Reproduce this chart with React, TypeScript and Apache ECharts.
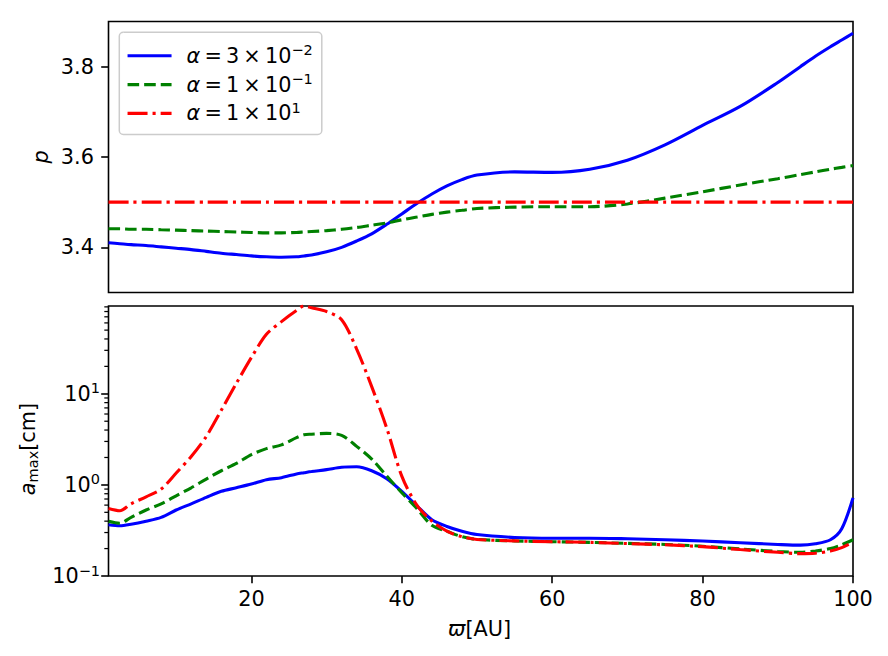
import { useEffect, useRef } from 'react';
import * as echarts from 'echarts';

// Radial distance ϖ [AU] at which every profile is sampled
const radius = [
  1, 2.5, 4, 6, 8, 10, 12, 14, 16, 18,
  20, 22, 24, 26, 27, 28, 30, 32, 34, 36,
  38, 40, 42, 44, 46, 48, 50, 55, 60, 65,
  70, 75, 80, 85, 90, 93, 95, 97, 98.5, 100,
];

// Power-law index p, one list per viscosity α
const pAlpha3em2 = [
  3.410, 3.408, 3.406, 3.404, 3.401, 3.398, 3.395, 3.391, 3.387, 3.384,
  3.381, 3.379, 3.378, 3.379, 3.381, 3.383, 3.390, 3.400, 3.414, 3.430,
  3.451, 3.474, 3.497, 3.518, 3.536, 3.550, 3.560, 3.567, 3.566, 3.573,
  3.593, 3.627, 3.670, 3.712, 3.765, 3.800, 3.823, 3.844, 3.859, 3.874,
];
const pAlpha1em1 = [
  3.441, 3.441, 3.440, 3.440, 3.439, 3.438, 3.437, 3.436, 3.435, 3.434,
  3.433, 3.432, 3.432, 3.433, 3.434, 3.435, 3.437, 3.440, 3.444, 3.449,
  3.454, 3.461, 3.467, 3.473, 3.478, 3.482, 3.486, 3.489, 3.490, 3.490,
  3.496, 3.509, 3.523, 3.538, 3.552, 3.561, 3.567, 3.573, 3.577, 3.581,
];
const pAlpha1e1 = [
  3.5, 3.5, 3.5, 3.5, 3.5, 3.5, 3.5, 3.5, 3.5, 3.5,
  3.5, 3.5, 3.5, 3.5, 3.5, 3.5, 3.5, 3.5, 3.5, 3.5,
  3.5, 3.5, 3.5, 3.5, 3.5, 3.5, 3.5, 3.5, 3.5, 3.5,
  3.5, 3.5, 3.5, 3.5, 3.5, 3.5, 3.5, 3.5, 3.5, 3.5,
];

// Maximum grain size a_max [cm], one list per viscosity α
const aAlpha3em2 = [
  0.365, 0.356, 0.370, 0.400, 0.440, 0.530, 0.620, 0.730, 0.850, 0.930,
  1.020, 1.140, 1.200, 1.320, 1.360, 1.400, 1.470, 1.560, 1.580, 1.430,
  1.170, 0.850, 0.590, 0.415, 0.350, 0.310, 0.285, 0.265, 0.260, 0.260,
  0.256, 0.250, 0.242, 0.232, 0.222, 0.218, 0.226, 0.250, 0.330, 0.720,
];
const aAlpha1em1 = [
  0.400, 0.380, 0.440, 0.530, 0.620, 0.760, 0.930, 1.160, 1.430, 1.720,
  2.150, 2.500, 2.750, 3.300, 3.550, 3.600, 3.680, 3.500, 2.650, 1.920,
  1.250, 0.820, 0.550, 0.360, 0.310, 0.270, 0.252, 0.243, 0.238, 0.234,
  0.228, 0.222, 0.212, 0.198, 0.186, 0.182, 0.188, 0.200, 0.220, 0.250,
];
const aAlpha1e1 = [
  0.550, 0.520, 0.620, 0.740, 0.900, 1.350, 2.050, 3.400, 6.600, 13.00,
  25.00, 45.00, 62.00, 82.00, 92.00, 88.00, 80.00, 65.00, 31.00, 12.00,
  4.200, 1.250, 0.600, 0.400, 0.310, 0.270, 0.252, 0.243, 0.238, 0.234,
  0.227, 0.220, 0.210, 0.195, 0.182, 0.176, 0.178, 0.188, 0.205, 0.235,
];

// α = mantissa × 10^exponent
const alphaMantissa = [3, 1, 1];
const alphaExponent = ['−2', '−1', '1'];

// Axis ticks
const xTicks = [20, 40, 60, 80, 100];
const pTicks = [3.4, 3.6, 3.8];
const aTicks = [0.1, 1, 10];
const aMinorTicks = [
  0.2, 0.3, 0.4, 0.5, 0.6, 0.7, 0.8, 0.9,
  2, 3, 4, 5, 6, 7, 8, 9,
  20, 30, 40, 50, 60, 70, 80, 90,
];

const X_MIN = 1;
const X_MAX = 100;
const P_MIN = 3.3;
const P_MAX = 3.9;
const A_MIN = 0.1;
const A_MAX = 92;

const FONT = 'DejaVu Sans';
const FS = 20.8;
const INK = '#000000';
const THIN = '\u2009';
const LINE_W = 3.1;

const mathRich: Record<string, any> = {
  b: { fontFamily: FONT, fontSize: FS, lineHeight: 26, color: INK },
  i: { fontFamily: FONT, fontStyle: 'italic', fontSize: FS, lineHeight: 26, color: INK },
  s: { fontFamily: FONT, fontSize: 14.5, lineHeight: 12, verticalAlign: 'top', color: INK },
  u: { fontFamily: FONT, fontSize: 14.5, lineHeight: 13.6, verticalAlign: 'bottom', color: INK },
};

const seriesNames = alphaMantissa.map((m, i) => `α = ${m} × 10^${alphaExponent[i]}`);
const lineStyles = [
  { color: '#0000ff', width: LINE_W, type: 'solid' as any },
  { color: '#008000', width: LINE_W, type: [11.6, 5] as any },
  { color: '#ff0000', width: LINE_W, type: [20, 5, 3.1, 5] as any },
];

const pSeries = [pAlpha3em2, pAlpha1em1, pAlpha1e1];
const aSeries = [aAlpha3em2, aAlpha1em1, aAlpha1e1];

const pair = (ys: number[]) => radius.map((x, i) => [x, ys[i]]);

const supLabel = (v: number) => {
  const e = Math.round(Math.log10(v));
  return `{b|10}{s|${e < 0 ? '−' + -e : e}}`;
};

export default function App() {
  const ref = useRef<HTMLDivElement>(null);

  useEffect(() => {
    if (!ref.current) return;
    const chart = echarts.init(ref.current, null, { renderer: 'svg' });

    const makeLine = (name: string, k: number, panel: number, ys: number[]) => ({
      name,
      type: 'line',
      xAxisIndex: panel,
      yAxisIndex: panel,
      data: pair(ys),
      showSymbol: false,
      symbol: 'none',
      smooth: 0.3,
      lineStyle: lineStyles[k],
      itemStyle: { color: lineStyles[k].color },
      z: 3,
    });

    const lineSeries: any[] = [];
    seriesNames.forEach((name, k) => lineSeries.push(makeLine(name, k, 0, pSeries[k])));
    seriesNames.forEach((name, k) => lineSeries.push(makeLine(name, k, 1, aSeries[k])));

    // Minor ticks of the logarithmic a_max axis (2..9 of each decade)
    lineSeries.push({
      type: 'custom',
      xAxisIndex: 1,
      yAxisIndex: 1,
      silent: true,
      clip: false,
      z: 6,
      data: aMinorTicks.map((v) => [X_MIN, v]),
      renderItem: (_params: any, api: any) => {
        const pt = api.coord([api.value(0), api.value(1)]);
        return {
          type: 'line',
          shape: { x1: pt[0] - 4.2, y1: pt[1], x2: pt[0], y2: pt[1] },
          style: { stroke: INK, lineWidth: 1.25 },
        };
      },
    });

    const tickStyle = { show: true, inside: false, length: 7.3, lineStyle: { color: INK, width: 1.6 } };
    const labelBase = { color: INK, fontFamily: FONT, fontSize: FS };

    chart.setOption({
      animation: false,
      backgroundColor: '#ffffff',
      grid: [
        { left: 108.5, top: 21.5, width: 744.5, height: 271, show: true, borderColor: INK, borderWidth: 1.6, backgroundColor: 'transparent', containLabel: false },
        { left: 108.5, top: 306, width: 744.5, height: 270, show: true, borderColor: INK, borderWidth: 1.6, backgroundColor: 'transparent', containLabel: false },
      ],
      xAxis: [
        {
          type: 'value', gridIndex: 0, min: X_MIN, max: X_MAX,
          axisLine: { show: false }, axisTick: { show: false }, axisLabel: { show: false }, splitLine: { show: false },
        },
        {
          type: 'value', gridIndex: 1, min: X_MIN, max: X_MAX,
          axisLine: { show: false },
          axisTick: { ...tickStyle, customValues: xTicks },
          axisLabel: { ...labelBase, customValues: xTicks, margin: 12, formatter: (v: number) => String(v) },
          splitLine: { show: false },
        },
      ],
      yAxis: [
        {
          type: 'value', gridIndex: 0, min: P_MIN, max: P_MAX,
          axisLine: { show: false },
          axisTick: { ...tickStyle, customValues: pTicks },
          axisLabel: { ...labelBase, customValues: pTicks, margin: 14.6, formatter: (v: number) => v.toFixed(1) },
          splitLine: { show: false },
        },
        {
          type: 'log', logBase: 10, gridIndex: 1, min: A_MIN, max: A_MAX,
          axisLine: { show: false },
          axisTick: { ...tickStyle, customValues: aTicks },
          axisLabel: { ...labelBase, customValues: aTicks, margin: 8.5, formatter: supLabel, rich: mathRich },
          splitLine: { show: false },
          minorTick: { show: false },
        },
      ],
      legend: {
        data: seriesNames,
        orient: 'vertical',
        left: 119.3,
        top: 32.3,
        padding: [10.5, 9, 10.5, 6.7],
        itemGap: 5.3,
        itemWidth: 44,
        itemHeight: 20,
        backgroundColor: 'rgba(255,255,255,0.8)',
        borderColor: '#cccccc',
        borderWidth: 1.5,
        borderRadius: 4,
        selectedMode: false,
        itemStyle: { opacity: 0, borderWidth: 0 },
        lineStyle: { width: LINE_W },
        formatter: (name: string) => {
          const i = seriesNames.indexOf(name);
          return `{i|α}{b|${THIN}=${THIN}${alphaMantissa[i]}${THIN}×${THIN}10}{s|${alphaExponent[i]}}`;
        },
        textStyle: { ...labelBase, padding: [0, 0, 0, 10], rich: mathRich },
      },
      graphic: [
        {
          type: 'text', x: 41, y: 157, rotation: Math.PI / 2,
          style: { text: 'p', fontFamily: FONT, fontStyle: 'italic', fontSize: FS, fill: INK, align: 'center', verticalAlign: 'middle' },
        },
        {
          type: 'text', x: 27.5, y: 449, rotation: Math.PI / 2,
          style: { text: '{i|a}{u|max}{b|[cm]}', rich: mathRich, fontFamily: FONT, fontSize: FS, fill: INK, align: 'center', verticalAlign: 'middle' },
        },
        {
          type: 'text', x: 479.5, y: 629,
          style: { text: '{i|ϖ}{b|[AU]}', rich: mathRich, fontFamily: FONT, fontSize: FS, fill: INK, align: 'center', verticalAlign: 'middle' },
        },
      ],
      series: lineSeries,
    });

    return () => chart.dispose();
  }, []);

  return <div ref={ref} style={{ position: 'fixed', left: 0, top: 0, width: 888, height: 656 }} />;
}
